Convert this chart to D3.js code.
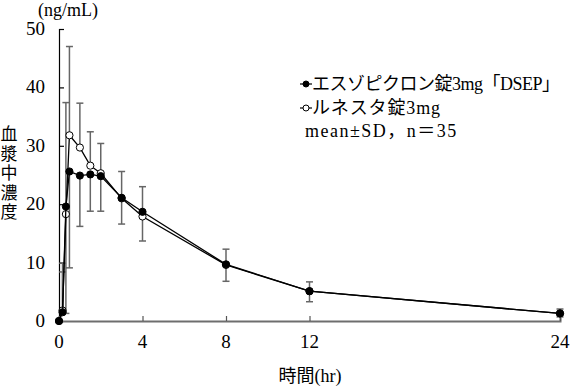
<!DOCTYPE html>
<html>
<head>
<meta charset="utf-8">
<script src="https://cdn.jsdelivr.net/npm/d3@7"></script>
<style>
  body { margin: 0; background: #fff; }
  text { font-family: "Liberation Serif", "Noto Sans CJK JP", serif; fill: #000; }
</style>
</head>
<body>
<div id="wrapper"></div>
<script>
// data
const times = [0, 0.17, 0.33, 0.5, 1, 1.5, 2, 3, 4, 8, 12, 24];
const dsepMean = [0, 1.5, 19.6, 25.6, 24.9, 25.1, 24.8, 21.1, 18.7, 9.7, 5.1, 1.3];
const dsepSD = [0, 6.9, 17.8, 16.5, 8.7, 6.3, 6.0, 4.5, 4.3, 2.6, 1.6, 0.75];
const dsepDir = [0, 1, 1, -1, -1, -1, -1, 1, 1, 1, 1, 1];
const lunMean = [0, 1.8, 18.3, 31.8, 29.7, 26.6, 25.3, 21.0, 17.9, 9.6, 5.1, 1.3];
const lunSD = [0, 8.1, 17.0, 15.2, 7.6, 5.8, 5.1, 4.4, 4.2, 2.8, 1.8, 0.6];
const lunDir = [0, 1, -1, 1, 1, 1, 1, -1, -1, -1, -1, -1];
const xTicks = [0, 4, 8, 12, 24];
const yTicks = [0, 10, 20, 30, 40, 50];
const legendLabels = ["エスゾピクロン錠3mg「DSEP」", "ルネスタ錠3mg", "mean±SD，n＝35"];

const dimensions = {
  width: 571,
  height: 386,
  margin: { top: 29, right: 11, bottom: 65, left: 59 },
};
dimensions.boundedWidth = dimensions.width - dimensions.margin.left - dimensions.margin.right;
dimensions.boundedHeight = dimensions.height - dimensions.margin.top - dimensions.margin.bottom;

const svg = d3.select("#wrapper").append("svg")
  .attr("width", dimensions.width)
  .attr("height", dimensions.height);

const bounds = svg.append("g")
  .attr("transform", `translate(${dimensions.margin.left},${dimensions.margin.top})`);

const xScale = d3.scaleLinear().domain([0, 24]).range([0, dimensions.boundedWidth]);
const yScale = d3.scaleLinear().domain([0, 50]).range([dimensions.boundedHeight, 0]);

bounds.append("clipPath").attr("id", "plotclip")
  .append("rect")
  .attr("x", -10).attr("y", -10)
  .attr("width", dimensions.boundedWidth + 20)
  .attr("height", dimensions.boundedHeight + 10);

// axes, ticks pointing inward
const yAxis = bounds.append("g")
  .call(d3.axisRight(yScale).tickValues(yTicks).tickSize(5).tickFormat(""));
yAxis.select(".domain").attr("stroke", "#000").attr("stroke-width", 1.2);
yAxis.selectAll(".tick line").attr("stroke", "#000").attr("stroke-width", 1.2);

const xAxis = bounds.append("g")
  .attr("transform", `translate(0,${dimensions.boundedHeight})`)
  .call(d3.axisTop(xScale).tickValues(xTicks).tickSize(5).tickFormat(""));
xAxis.select(".domain").attr("stroke", "#6e6e6e").attr("stroke-width", 2);
xAxis.selectAll(".tick line").attr("stroke", "#555").attr("stroke-width", 1.2);

bounds.selectAll(".ylab").data(yTicks).join("text")
  .attr("x", -14).attr("y", (d) => yScale(d) + 6)
  .attr("text-anchor", "end")
  .style("font-size", "19px")
  .text((d) => d);

bounds.selectAll(".xlab").data(xTicks).join("text")
  .attr("x", (d) => xScale(d)).attr("y", dimensions.boundedHeight + 27)
  .attr("text-anchor", "middle")
  .style("font-size", "19px")
  .text((d) => d);

svg.append("text").attr("x", 38).attr("y", 16)
  .style("font-size", "18px").text("(ng/mL)");

svg.append("text").attr("x", 310).attr("y", 382)
  .attr("text-anchor", "middle")
  .style("font-size", "18px").text("時間(hr)");

svg.append("text").attr("x", 9).attr("y", 140)
  .attr("text-anchor", "middle")
  .style("font-size", "17px")
  .selectAll("tspan").data("血漿中濃度".split("")).join("tspan")
  .attr("x", 9).attr("dy", (d, i) => (i === 0 ? 0 : 19.5))
  .text((d) => d);

// series
const series = [
  { mean: lunMean, sd: lunSD, dir: lunDir, fill: "#fff" },
  { mean: dsepMean, sd: dsepSD, dir: dsepDir, fill: "#000" },
];

const plot = bounds.append("g").attr("clip-path", "url(#plotclip)");

series.forEach((s) => {
  const bars = times.map((t, i) => ({ t, m: s.mean[i], e: s.mean[i] + s.dir[i] * s.sd[i], sd: s.sd[i] }))
    .filter((d) => d.sd > 0);
  const g = plot.append("g").attr("stroke", "#666").attr("stroke-width", 1.5);
  g.selectAll(".v").data(bars).join("line")
    .attr("x1", (d) => xScale(d.t)).attr("x2", (d) => xScale(d.t))
    .attr("y1", (d) => yScale(d.m)).attr("y2", (d) => yScale(d.e));
  g.selectAll(".c").data(bars).join("line")
    .attr("x1", (d) => xScale(d.t) - 3.5).attr("x2", (d) => xScale(d.t) + 3.5)
    .attr("y1", (d) => yScale(d.e)).attr("y2", (d) => yScale(d.e));
});

const lineGenerator = d3.line()
  .x((d) => xScale(d[0]))
  .y((d) => yScale(d[1]));

series.forEach((s) => {
  const pts = times.map((t, i) => [t, s.mean[i]]);
  bounds.append("path")
    .attr("d", lineGenerator(pts))
    .attr("fill", "none")
    .attr("stroke", "#000")
    .attr("stroke-width", 1.3);
  bounds.append("g").selectAll("circle").data(pts).join("circle")
    .attr("cx", (d) => xScale(d[0])).attr("cy", (d) => yScale(d[1]))
    .attr("r", 3.6)
    .attr("fill", s.fill)
    .attr("stroke", "#000")
    .attr("stroke-width", 1);
});

// legend
const legend = svg.append("g").attr("transform", "translate(300,0)");
[{ y: 84, fill: "#000", len: 248 }, { y: 108, fill: "#fff", len: 128 }].forEach((d, i) => {
  legend.append("line").attr("x1", 0).attr("x2", 12).attr("y1", d.y).attr("y2", d.y)
    .attr("stroke", "#000").attr("stroke-width", 1.2);
  legend.append("circle").attr("cx", 6).attr("cy", d.y).attr("r", 3)
    .attr("fill", d.fill).attr("stroke", "#000").attr("stroke-width", 1);
  legend.append("text").attr("x", 12).attr("y", d.y + 6)
    .attr("textLength", d.len).attr("lengthAdjust", "spacing")
    .style("font-size", "18px").text(legendLabels[i]);
});
legend.append("text").attr("x", 5).attr("y", 137)
  .style("font-size", "18px").style("letter-spacing", "1.5px")
  .text(legendLabels[2]);
</script>
</body>
</html>
